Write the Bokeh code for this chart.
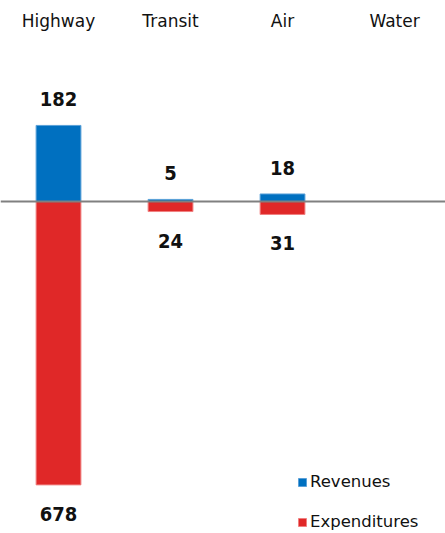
from bokeh.plotting import figure
from bokeh.models import ColumnDataSource, Span, Legend, LegendItem, Range1d
from bokeh.core.properties import value
from bokeh.embed import file_html
from bokeh.resources import INLINE

categories = ["Highway", "Transit", "Air", "Water"]
revenues = [182, 5, 18, 0]
expenditures = [678, 24, 31, 0]

BLUE = "#0070C0"
RED = "#E02828"

xs = list(range(len(categories)))
rev_src = ColumnDataSource(dict(
    x=xs, top=revenues, bottom=[0] * len(xs),
    lab=[str(v) if v else "" for v in revenues]))
exp_src = ColumnDataSource(dict(
    x=xs, top=[0] * len(xs), bottom=[-v for v in expenditures],
    lab=[str(v) if v else "" for v in expenditures]))
cat_src = ColumnDataSource(dict(x=xs, y=[433] * len(xs), lab=categories))

p = figure(width=445, height=533, output_backend="svg", toolbar_location=None,
           x_range=Range1d(-0.518, 3.455), y_range=Range1d(-794.3, 480.9),
           min_border=0)
p.axis.visible = False
p.grid.visible = False
p.outline_line_color = None
p.background_fill_color = "white"

r_exp = p.vbar(x="x", top="top", bottom="bottom", width=0.4, source=exp_src,
               fill_color=RED, line_color="#F08080", line_width=1)
r_rev = p.vbar(x="x", top="top", bottom="bottom", width=0.4, source=rev_src,
               fill_color=BLUE, line_color="#5AA0D8", line_width=1)

p.add_layout(Span(location=0, dimension="width", line_color="#808080", line_width=2))

num_font = value("'Liberation Sans Narrow', 'DejaVu Sans Condensed'")
p.text(x="x", y="top", text="lab", source=rev_src, text_align="center",
       text_baseline="middle", y_offset=-26, text_font=num_font,
       text_font_style="bold", text_font_size="20px", text_color="#111111")
p.text(x="x", y="bottom", text="lab", source=exp_src, text_align="center",
       text_baseline="middle", y_offset=29, text_font=num_font,
       text_font_style="bold", text_font_size="20px", text_color="#111111")
p.text(x="x", y="y", text="lab", source=cat_src, text_align="center",
       text_baseline="middle", text_font=value("DejaVu Sans"),
       text_font_size="17px", text_color="#111111")

legend = Legend(items=[LegendItem(label="Revenues", renderers=[r_rev]),
                       LegendItem(label="Expenditures", renderers=[r_exp])],
                location=(297, 2), orientation="vertical",
                glyph_width=10, glyph_height=10, label_height=16,
                spacing=21, padding=0, margin=0, label_standoff=3,
                label_text_font="DejaVu Sans", label_text_font_size="16.5px",
                label_text_color="#111111",
                border_line_color=None, background_fill_alpha=0)
p.add_layout(legend)

open("out.html", "w").write(file_html(p, INLINE))
